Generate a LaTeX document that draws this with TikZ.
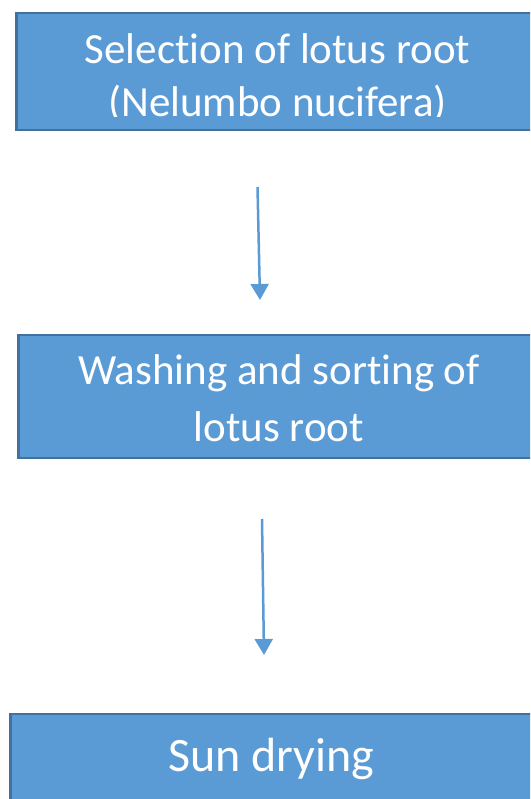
\documentclass[tikz,border=0pt]{standalone}
\usepackage{fontspec}
\setmainfont{Carlito}[Ligatures=NoCommon]
\usepackage{xcolor}
\usetikzlibrary{arrows.meta,positioning}

\definecolor{boxfill}{HTML}{5B9BD5}
\definecolor{boxedge}{HTML}{41719C}
\newcommand{\stepfont}{\fontsize{43}{53}\selectfont}

\tikzset{
  procbox/.style={draw=boxedge, fill=boxfill, line width=2.5pt, anchor=north west, inner sep=0pt},
  proctext/.style={text=white, font=\stepfont, align=center, inner sep=0pt, anchor=base},
  flow/.style={-{Triangle[length=16pt,width=18pt]}, draw=boxfill, line width=2.5pt}
}

\begin{document}
\begin{tikzpicture}[x=1pt, y=1pt]
  \useasboundingbox (0,0) rectangle (530,799);
  \clip (0,0) rectangle (530,799);

  % boxes
  \node[procbox, minimum width=525pt, minimum height=117pt] (selection) at (15,787) {};
  \node[procbox, minimum width=523pt, minimum height=123pt] (washing) at (17,465) {};
  \node[procbox, minimum width=531pt, minimum height=110pt] (drying) at (9,86) {};

  % texts (anchor base = last line)
  \begin{scope}
    \clip (15,682) rectangle (540,787);
    \node[proctext] (selectiontext) at (277.5,682) {Selection of lotus root\\(Nelumbo nucifera)};
  \end{scope}
  \node[proctext, font=\fontsize{43}{57}\selectfont] (washingtext) at (279,357) {Washing and sorting of\\lotus root};
  \node[proctext, font=\fontsize{48}{58}\selectfont] (dryingtext) at (271.5,27) {Sun drying};

  % arrows
  \coordinate (a1) at (257.5,612);
  \coordinate (b1) at (260,499);
  \coordinate (a2) at (262,280);
  \coordinate (b2) at (264,144);
  \draw[flow] (a1) -- (b1);
  \draw[flow] (a2) -- (b2);
\end{tikzpicture}
\end{document}
